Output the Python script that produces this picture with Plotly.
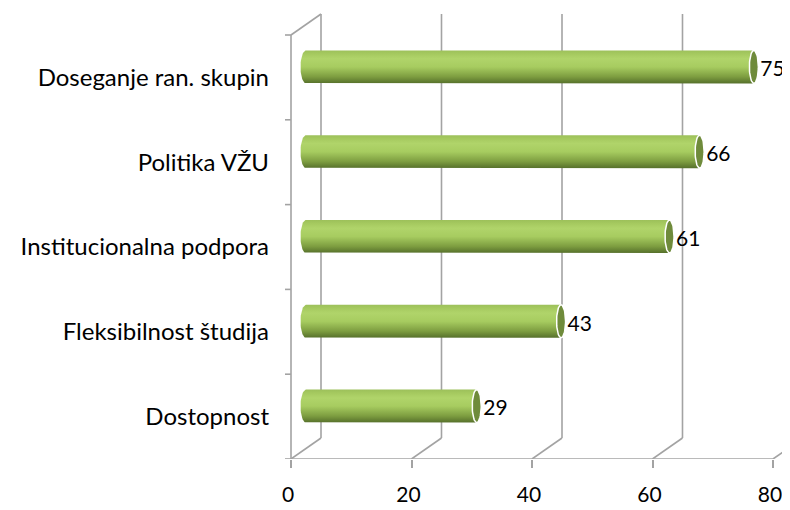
import numpy as np
import plotly.graph_objects as go

# ---- data ----
categories = ["Dostopnost", "Fleksibilnost študija", "Institucionalna podpora", "Politika VŽU", "Doseganje ran. skupin"]
values = [29, 43, 61, 66, 75]
x_ticks = [0, 20, 40, 60, 80]

# ---- geometry (pixels -> data units) ----
# the page body adds an 8px offset, so the figure is sized/positioned accordingly
OFF = 8
PX_X = 6.025          # pixels per value unit
PX_Y = 84.8           # pixels per category
W, H = 790 - OFF, 510 - OFF
ML = 280 - OFF
AXIS_X = 291 - OFF    # pixel of value 0 (front axis)
BASE_Y = 459 - OFF    # pixel of front baseline
MB = H - BASE_Y
x0_range = -(AXIS_X - ML) / PX_X
x1_range = x0_range + (W - ML) / PX_X
y1_range = BASE_Y / PX_Y

DX, DY = 30 / PX_X, 21 / PX_Y          # full depth offset
DXL, DXR = 15 / PX_X, 11 / PX_X        # bar start / end depth shift
DYH = 10.5 / PX_Y                      # half depth (bar position)
BH = 16.5 / PX_Y                       # bar half-height
CAP_RX = 4.5 / PX_X
LCAP_RX = 5.5 / PX_X

GRID = "#a3a3a3"
FONT = "Lato, 'Open Sans', sans-serif"

fig = go.Figure()

shapes = []
def line(xa, ya, xb, yb):
    shapes.append(dict(type="line", xref="x", yref="y", x0=xa, y0=ya, x1=xb, y1=yb,
                       line=dict(color=GRID, width=1.6), layer="below"))

n = len(categories)
# back wall verticals and floor diagonals
for t in x_ticks:
    line(t + DX, DY, t + DX, n + DY)
    line(t, 0, t + DX, DY)
# front base line and left axis
line(0, 0, x_ticks[-1], 0)
line(0, 0, 0, n)
line(0, n, DX, n + DY)
for i in range(n + 1):
    line(-6 / PX_X, i, 0, i)

th = np.linspace(np.pi / 2, 3 * np.pi / 2, 30)
tf = np.linspace(0, 2 * np.pi, 60)
for i, (c, v) in enumerate(zip(categories, values)):
    yc = i + 0.5 + DYH
    xl = DXL
    xr = v + DXR
    lx = xl + LCAP_RX * np.cos(th)
    ly = yc + BH * np.sin(th)
    px = [xl, xr, xr] + list(lx[::-1])
    py = [yc + BH, yc + BH, yc - BH] + list(ly[::-1])
    fig.add_trace(go.Scatter(
        x=px, y=py, mode="lines", fill="toself", line=dict(width=0),
        fillgradient=dict(type="vertical",
                          colorscale=[[0, "#56702b"], [0.2, "#7d9d40"], [0.5, "#a7cc60"],
                                      [0.75, "#b0d46a"], [0.9, "#a5c95f"], [1, "#9cc05a"]]),
        hoverinfo="skip", showlegend=False))
    # right end cap
    fig.add_trace(go.Scatter(
        x=list(xr + CAP_RX * np.cos(tf)), y=list(yc + BH * np.sin(tf)),
        mode="lines", fill="toself", fillcolor="#6f8b3b",
        line=dict(color="white", width=1.5), hoverinfo="skip", showlegend=False))
    # value label
    fig.add_trace(go.Scatter(
        x=[xr + CAP_RX + 2 / PX_X], y=[yc - 4 / PX_Y], mode="text", text=[str(v)],
        textposition="middle right", textfont=dict(family=FONT, size=21, color="black"),
        cliponaxis=False, hoverinfo="skip", showlegend=False))

fig.update_layout(
    width=W, height=H,
    margin=dict(l=ML, r=0, t=0, b=MB),
    paper_bgcolor="white", plot_bgcolor="white",
    shapes=shapes,
    xaxis=dict(range=[x0_range, x1_range], tickvals=x_ticks, ticktext=[str(t) for t in x_ticks],
               ticks="outside", ticklen=8, tickwidth=1.6, tickcolor=GRID,
               showgrid=False, zeroline=False, showline=False, automargin=False,
               tickfont=dict(family=FONT, size=21, color="black"),
               ticklabelstandoff=9, ticklabelshift=-3),
    yaxis=dict(range=[0, y1_range], tickvals=[i + 0.5 for i in range(n)], ticktext=categories,
               ticks="", showgrid=False, zeroline=False, showline=False, automargin=False,
               tickfont=dict(family=FONT, size=24, color="black"), ticklabelstandoff=10),
)

fig.write_html("out.html")
